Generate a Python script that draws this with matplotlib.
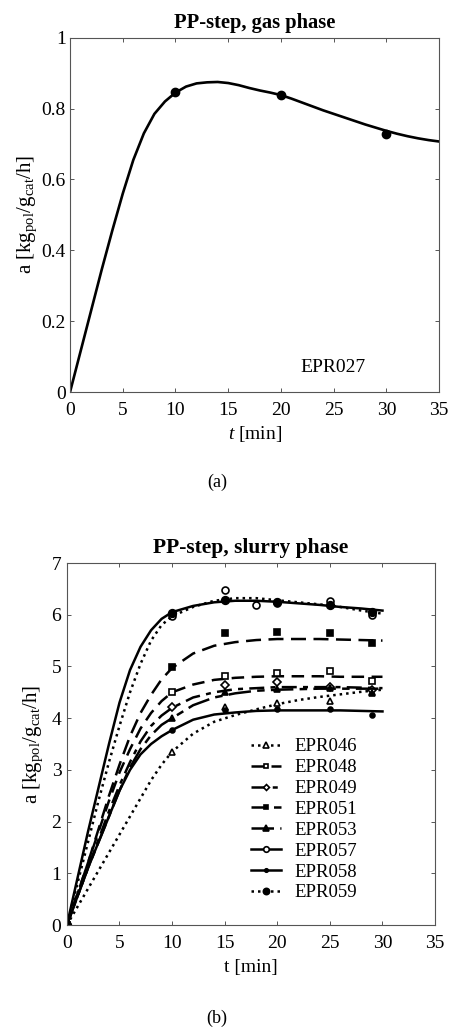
import matplotlib
matplotlib.use("Agg")
import matplotlib.pyplot as plt

plt.rcParams["font.family"] = ["Liberation Serif", "DejaVu Serif"]
plt.rcParams["mathtext.fontset"] = "custom"
plt.rcParams["mathtext.rm"] = "Liberation Serif"
plt.rcParams["mathtext.it"] = "Liberation Serif:italic"

# (a) gas phase, EPR027
t_gas = [0, 1, 2, 3, 4, 5, 6, 7, 8, 9, 10, 11, 12, 13, 14, 15, 16, 17, 18,
         19, 20, 21, 22, 23, 24, 25, 26, 27, 28, 29, 30, 31, 32, 33, 34, 35]
a_gas = [0, 0.115, 0.23, 0.345, 0.455, 0.56, 0.655, 0.73, 0.785, 0.82, 0.845,
         0.862, 0.871, 0.874, 0.875, 0.872, 0.866, 0.858, 0.851, 0.845, 0.838,
         0.828, 0.817, 0.806, 0.795, 0.785, 0.775, 0.765, 0.755, 0.746, 0.737,
         0.729, 0.722, 0.716, 0.711, 0.707]
t_gas_pts = [10, 20, 30]
a_gas_pts = [0.847, 0.838, 0.727]

# (b) slurry phase
t_fit = [0, 1, 2, 3, 4, 5, 6, 7, 8, 9, 10, 12, 14, 16, 18, 20, 22, 24, 26, 28, 30]
fit_046 = [0, 0.35, 0.7, 1.05, 1.4, 1.75, 2.1, 2.45, 2.8, 3.1, 3.35, 3.7, 3.93,
           4.06, 4.17, 4.27, 4.35, 4.41, 4.46, 4.51, 4.55]
fit_048 = [0, 0.6, 1.2, 1.8, 2.4, 2.95, 3.4, 3.8, 4.1, 4.33, 4.5, 4.65, 4.74,
           4.78, 4.8, 4.81, 4.81, 4.81, 4.8, 4.8, 4.8]
fit_049 = [0, 0.55, 1.1, 1.65, 2.2, 2.7, 3.15, 3.55, 3.85, 4.05, 4.2, 4.4, 4.5,
           4.56, 4.58, 4.6, 4.6, 4.6, 4.6, 4.59, 4.58]
fit_051 = [0, 0.6, 1.2, 1.85, 2.5, 3.1, 3.65, 4.1, 4.45, 4.75, 4.97, 5.25, 5.4,
           5.47, 5.51, 5.53, 5.53, 5.53, 5.52, 5.51, 5.5]
fit_053 = [0, 0.55, 1.1, 1.6, 2.1, 2.6, 3.05, 3.4, 3.67, 3.87, 4.0, 4.25, 4.4,
           4.48, 4.53, 4.55, 4.56, 4.57, 4.57, 4.57, 4.57]
fit_057 = [0, 0.9, 1.8, 2.65, 3.5, 4.3, 4.93, 5.38, 5.7, 5.92, 6.05, 6.17, 6.24,
           6.27, 6.27, 6.25, 6.22, 6.19, 6.15, 6.12, 6.08]
fit_058 = [0, 0.55, 1.1, 1.6, 2.1, 2.6, 3.0, 3.3, 3.5, 3.65, 3.77, 3.97, 4.07,
           4.11, 4.14, 4.15, 4.15, 4.15, 4.15, 4.14, 4.13]
fit_059 = [0, 0.8, 1.6, 2.4, 3.15, 3.85, 4.5, 5.05, 5.5, 5.8, 5.97, 6.15, 6.27,
           6.32, 6.32, 6.28, 6.24, 6.2, 6.15, 6.08, 6.02]

t_pts = [0, 10, 15, 20, 25, 29]
t_pts_057 = [0, 10, 15, 18, 20, 25, 29]
pts_046 = [0, 3.35, 4.21, 4.29, 4.34, 4.51]
pts_048 = [0, 4.50, 4.82, 4.88, 4.92, 4.71]
pts_049 = [0, 4.21, 4.64, 4.70, 4.60, 4.55]
pts_051 = [0, 4.98, 5.64, 5.66, 5.64, 5.45]
pts_053 = [0, 4.01, 4.51, 4.56, 4.58, 4.48]
pts_057 = [0, 5.97, 6.48, 6.19, 6.23, 6.26, 6.00]
pts_058 = [0, 3.77, 4.16, 4.17, 4.17, 4.06]
pts_059 = [0, 6.03, 6.29, 6.24, 6.18, 6.05]

series = [
    ("EPR046", t_fit, fit_046, t_pts, pts_046, (0, (1, 1.6)), "^", "white", 5),
    ("EPR048", t_fit, fit_048, t_pts, pts_048, (0, (5, 3)), "s", "white", 4),
    ("EPR049", t_fit, fit_049, t_pts, pts_049, (0, (6, 2.5, 2, 2.5)), "D", "white", 4),
    ("EPR051", t_fit, fit_051, t_pts, pts_051, (0, (6, 3)), "s", "black", 4.5),
    ("EPR053", t_fit, fit_053, t_pts, pts_053, (0, (9, 2.5, 3, 2.5)), "^", "black", 5),
    ("EPR057", t_fit, fit_057, t_pts_057, pts_057, "-", "o", "white", 5),
    ("EPR058", t_fit, fit_058, t_pts, pts_058, "-", "o", "black", 3.5),
    ("EPR059", t_fit, fit_059, t_pts, pts_059, (0, (1, 1.6)), "o", "black", 5.5),
]

fig = plt.figure(figsize=(4.49, 10.27), dpi=100)


def style_axes(ax):
    for s in ax.spines.values():
        s.set_color("#555555")
        s.set_linewidth(0.8)
    ax.tick_params(direction="in", top=True, right=True, length=3,
                   labelsize=14, width=0.7, color="#555555", pad=7)


# ---- (a)
ax1 = fig.add_axes([0.156, 0.6183, 0.822, 0.345])
ax1.plot(t_gas, a_gas, color="black", lw=1.9)
ax1.plot(t_gas_pts, a_gas_pts, "o", color="black", ms=6)
ax1.set_xlim(0, 35)
ax1.set_ylim(0, 1)
ax1.set_xticks(range(0, 36, 5))
ax1.set_yticks([0, 0.2, 0.4, 0.6, 0.8, 1])
ax1.set_yticklabels(["0", "0.2", "0.4", "0.6", "0.8", "1"])
style_axes(ax1)
ax1.tick_params(axis="y", pad=3)
ax1.set_title("PP-step, gas phase", fontsize=14.8, fontweight="bold", pad=7)
ax1.set_xlabel("$t$ [min]", fontsize=14, labelpad=4)
ax1.set_ylabel(r"a [kg$_{\mathrm{pol}}$/g$_{\mathrm{cat}}$/h]", fontsize=15, labelpad=2)
ax1.text(24.9, 0.07, "EPR027", fontsize=14, ha="center", va="center")
fig.text(0.483, 0.530, "(a)", fontsize=13, ha="center", va="center")

# ---- (b)
ax2 = fig.add_axes([0.149, 0.0993, 0.82, 0.3525])
for name, tf, yf, tp, yp, ls, mk, mfc, ms in series:
    ax2.plot(tf, yf, color="black", lw=1.8, ls=ls)
    ax2.plot(tp, yp, ls="none", marker=mk, mfc=mfc, mec="black", mew=1.2,
             ms=ms)
    ax2.plot([], [], color="black", lw=1.8, ls=ls, marker=mk, mfc=mfc,
             mec="black", mew=1.2, ms=ms - 1, label=name)
ax2.set_xlim(0, 35)
ax2.set_ylim(0, 7)
ax2.set_xticks(range(0, 36, 5))
ax2.set_yticks(range(0, 8))
style_axes(ax2)
ax2.tick_params(axis="y", pad=4)
ax2.set_title("PP-step, slurry phase", fontsize=15.5, fontweight="bold", pad=7)
ax2.set_xlabel("t [min]", fontsize=14, labelpad=5)
ax2.set_ylabel(r"a [kg$_{\mathrm{pol}}$/g$_{\mathrm{cat}}$/h]", fontsize=15, labelpad=5)
ax2.legend(loc="upper left", bbox_to_anchor=(0.5, 0.516), frameon=False,
           fontsize=13.5, handlelength=1.6, handletextpad=0.7,
           labelspacing=0.2, borderaxespad=0, borderpad=0)
fig.text(0.483, 0.0088, "(b)", fontsize=13, ha="center", va="center")

fig.savefig("out.png", dpi=100)
